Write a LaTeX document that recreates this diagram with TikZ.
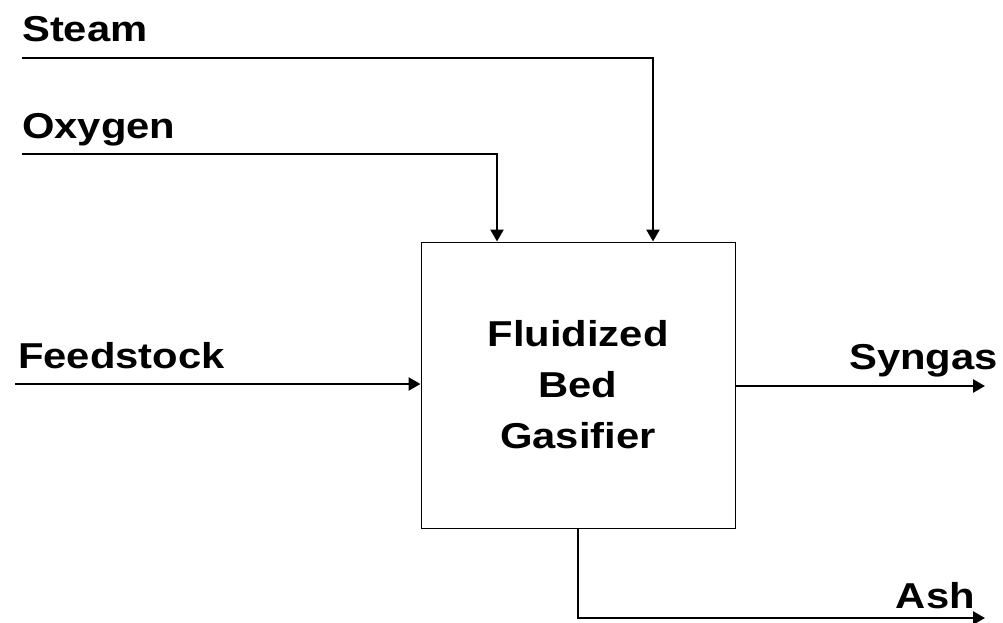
\documentclass[tikz,border=0pt]{standalone}
\usepackage{fontspec}
\setmainfont{Liberation Sans}[FakeStretch=1.16]
\usetikzlibrary{arrows.meta}
\begin{document}
\begin{tikzpicture}[x=1pt,y=-1pt,
  flow/.style={line width=2.6pt,-{Triangle[length=12pt,width=13pt]}},
  lbl/.style={font=\fontsize{36}{51}\selectfont\bfseries,inner sep=0pt},
  gasbox/.style={draw,line width=1pt,minimum width=314pt,minimum height=286pt,align=center,inner sep=0pt,font=\fontsize{36}{51}\selectfont\bfseries}]
\useasboundingbox (0,0) rectangle (1003,623);
\node[gasbox] (gas) at (578,385) {Fluidized\\Bed\\Gasifier};
% labels
\node[lbl,anchor=base west] (lSteam) at (22,42) {Steam};
\node[lbl,anchor=base west] (lOxy) at (22,139) {Oxygen};
\node[lbl,anchor=base west] (lFeed) at (18,368) {Feedstock};
\node[lbl,anchor=base east] (lSyn) at (998,369) {Syngas};
\node[lbl,anchor=base east] (lAsh) at (975,608) {Ash};
% coordinates
\coordinate (st) at (22,58);
\coordinate (stB) at (653,58);
\coordinate (ox) at (22,154);
\coordinate (oxB) at (497,154);
\coordinate (fd) at (15,384);
\coordinate (sy) at (985,386);
\coordinate (ashB) at (578,618);
\coordinate (ashE) at (985,618);
% connectors
\draw[flow] (st) -- (stB) -- (stB |- gas.north);
\draw[flow] (ox) -- (oxB) -- (oxB |- gas.north);
\draw[flow] (fd) -- (fd -| gas.west);
\draw[flow] (sy -| gas.east) -- (sy);
\draw[flow] (gas.south) -- (ashB) -- (ashE);
\end{tikzpicture}
\end{document}
